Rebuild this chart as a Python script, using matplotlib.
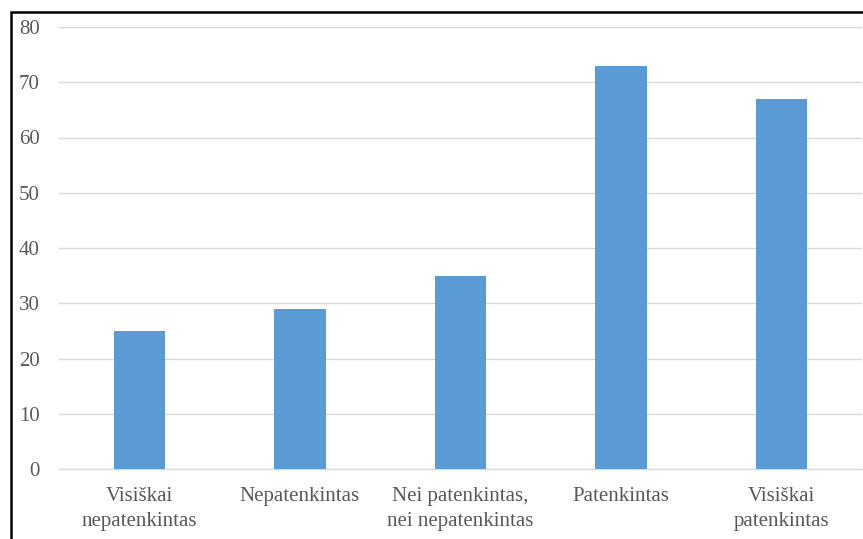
import matplotlib
matplotlib.use('Agg')
import matplotlib.pyplot as plt
from matplotlib.patches import Rectangle

# chart data
categories = ['Visiškai\nnepatenkintas', 'Nepatenkintas', 'Nei patenkintas,\nnei nepatenkintas',
              'Patenkintas', 'Visiškai\npatenkintas']
values = [25, 29, 35, 73, 67]
yticks = [0, 10, 20, 30, 40, 50, 60, 70, 80]

plt.rcParams['font.family'] = ['Liberation Serif', 'DejaVu Serif']

fig = plt.figure(figsize=(8.63, 5.39), dpi=100)
ax = fig.add_axes([59 / 863, 1 - 469 / 539, 803 / 863, (469 - 27) / 539])

x = range(len(categories))
ax.bar(x, values, width=0.32, color='#5B9BD5', zorder=3)

ax.set_xlim(-0.5, len(categories) - 0.5)
ax.set_ylim(0, 80)
ax.set_yticks(yticks)
ax.set_xticks(list(x))
ax.set_xticklabels(categories, linespacing=1.4)

ax.grid(axis='y', color='#D9D9D9', linewidth=1, zorder=0)
for side in ['top', 'right', 'left']:
    ax.spines[side].set_visible(False)
ax.spines['bottom'].set_color('#D9D9D9')
ax.spines['bottom'].set_linewidth(1)

ax.tick_params(axis='both', length=0, labelsize=15, colors='#595959')
ax.tick_params(axis='y', pad=14)
ax.tick_params(axis='x', pad=13)

# outer frame (chart is cropped on the right and bottom)
fig.patches.append(Rectangle((10.5 / 863, -0.1), 1.2, 1.1 - 11.5 / 539,
                             transform=fig.transFigure, fill=False,
                             edgecolor='black', linewidth=1.8))

fig.savefig('out.png', dpi=100)
